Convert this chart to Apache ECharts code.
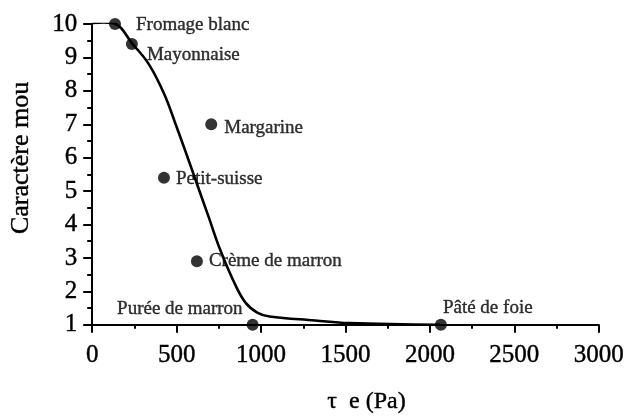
<!DOCTYPE html>
<html>
<head>
<meta charset="utf-8">
<script src="https://cdn.jsdelivr.net/npm/echarts@6/dist/echarts.min.js"></script>
<style>
  html, body { margin: 0; padding: 0; background: #fff; }
  #chart { width: 627px; height: 419px; }
</style>
</head>
<body>
<div id="chart"></div>
<script>
// Products: yield stress (Pa) and softness score
const products = ['Fromage blanc', 'Mayonnaise', 'Margarine', 'Petit-suisse', 'Crème de marron', 'Purée de marron', 'Pâté de foie'];
const stress = [135, 235, 705, 425, 620, 950, 2065];
const softness = [10, 9.4, 7, 5.4, 2.9, 1, 1];

// Fitted trend curve
const curveStress = [0, 70, 140, 235, 335, 425, 500, 560, 620, 690, 755, 845, 910, 980, 1050, 1320, 1520, 2060];
const curveSoftness = [10.03, 10.05, 10, 9.43, 8.8, 7.92, 6.92, 6.08, 5.22, 4.22, 3.28, 2.22, 1.65, 1.36, 1.25, 1.13, 1.05, 1.0];

const xTicks = [0, 500, 1000, 1500, 2000, 2500, 3000];
const yTicks = [1, 2, 3, 4, 5, 6, 7, 8, 9, 10];

const SERIF = "'Liberation Serif', 'DejaVu Serif', serif";
// a thin outline in the text colour gives the heavier print look
const INK = { color: '#000', textBorderColor: '#000', textBorderWidth: 0.4 };

// label placement around each dot: [dx, dy] from the dot centre, and alignment
const labelPlace = {
  'Fromage blanc': { off: [21, 1], align: 'left' },
  'Mayonnaise': { off: [15, 11], align: 'left' },
  'Margarine': { off: [13, 4], align: 'left' },
  'Petit-suisse': { off: [12, 1], align: 'left' },
  'Crème de marron': { off: [12, 0], align: 'left' },
  'Purée de marron': { off: [-10, -16], align: 'right' },
  'Pâté de foie': { off: [2, -17], align: 'left' }
};

const pointData = products.map((name, i) => {
  const p = labelPlace[name];
  return {
    name: name,
    value: [stress[i], softness[i]],
    label: {
      show: true,
      position: 'inside',
      formatter: name,
      align: p.align,
      verticalAlign: 'middle',
      offset: p.off
    }
  };
});

const curveData = curveStress.map((x, i) => [x, curveSoftness[i]]);

const chart = echarts.init(document.getElementById('chart'), null, { renderer: 'canvas' });

chart.setOption({
  backgroundColor: '#ffffff',
  animation: false,
  grid: { left: 88, right: 28, top: 24, bottom: 94 },
  xAxis: {
    type: 'value',
    min: xTicks[0],
    max: xTicks[xTicks.length - 1],
    interval: 500,
    name: 'τ  e (Pa)',
    nameLocation: 'middle',
    nameGap: 65,
    nameTextStyle: Object.assign({ fontFamily: SERIF, fontSize: 24, padding: [0, 0, 0, 42] }, INK),
    axisLine: { show: true, onZero: false, lineStyle: { color: '#000', width: 2 } },
    axisTick: { show: true, inside: false, length: 8, lineStyle: { color: '#000', width: 2 } },
    minorTick: { show: true, splitNumber: 2, length: 4, lineStyle: { color: '#000', width: 2 } },
    splitLine: { show: false },
    axisLabel: Object.assign({
      fontFamily: SERIF, fontSize: 25, margin: 18,
      formatter: v => String(v)
    }, INK)
  },
  yAxis: {
    type: 'value',
    min: yTicks[0],
    max: yTicks[yTicks.length - 1],
    interval: 1,
    name: 'Caractère mou',
    nameLocation: 'middle',
    nameGap: 58,
    nameTextStyle: Object.assign({ fontFamily: SERIF, fontSize: 26, padding: [0, 0, 0, 33] }, INK),
    axisLine: { show: true, onZero: false, lineStyle: { color: '#000', width: 2 } },
    axisTick: { show: true, inside: false, length: 9, lineStyle: { color: '#000', width: 2 } },
    minorTick: { show: true, splitNumber: 2, length: 5, lineStyle: { color: '#000', width: 2 } },
    splitLine: { show: false },
    axisLabel: Object.assign({ fontFamily: SERIF, fontSize: 25, margin: 15 }, INK)
  },
  series: [
    {
      type: 'line',
      data: curveData,
      smooth: 0.4,
      showSymbol: false,
      lineStyle: { color: '#000', width: 2.6 },
      z: 2
    },
    {
      type: 'scatter',
      data: pointData,
      symbol: 'circle',
      symbolSize: 12,
      itemStyle: { color: '#000' },
      label: { fontFamily: SERIF, fontSize: 19, color: '#000', textBorderColor: '#000', textBorderWidth: 0.4 },
      z: 3
    }
  ]
});
</script>
</body>
</html>
